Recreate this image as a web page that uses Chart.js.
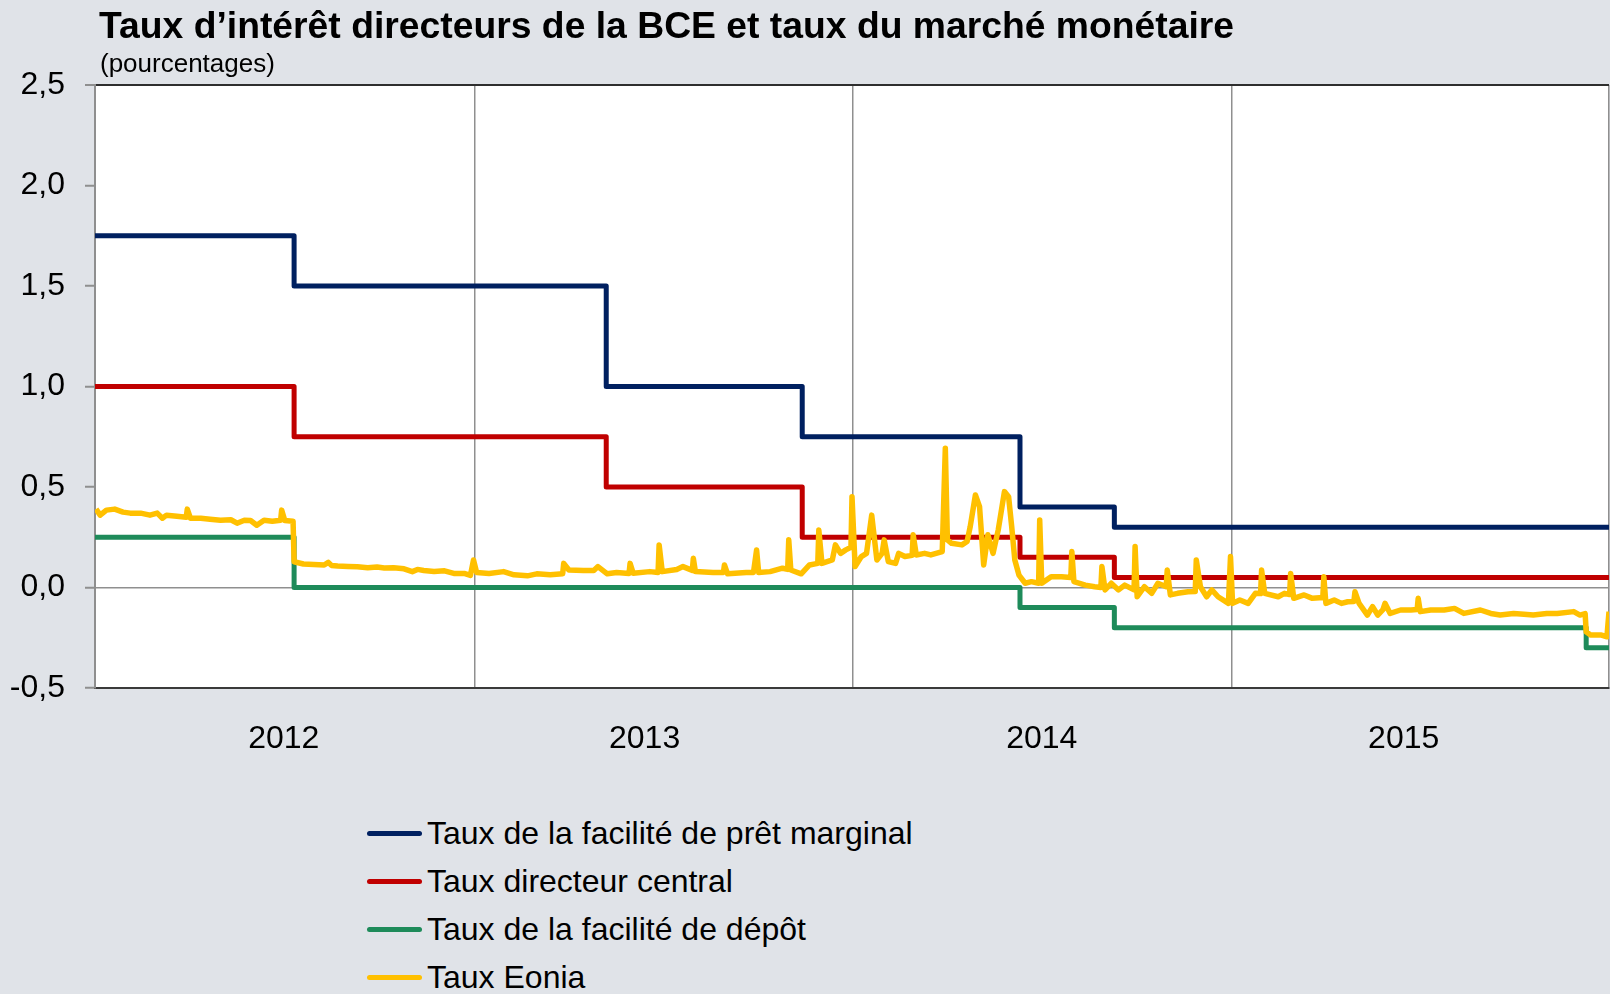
<!DOCTYPE html>
<html lang="fr">
<head>
<meta charset="utf-8">
<title>Taux d’intérêt directeurs de la BCE et taux du marché monétaire</title>
<script src="https://cdn.jsdelivr.net/npm/chart.js@4.4.1/dist/chart.umd.min.js"></script>
<style>
  body { margin: 0; background: #E0E3E8; font-family: "Liberation Sans", Arial, sans-serif; color: #000; }
  #page { position: relative; width: 1610px; height: 994px; overflow: hidden; }
  #chart { position: absolute; left: 0; top: 0; }
  h1 { position: absolute; left: 99px; top: 7px; margin: 0; font-size: 37.3px; line-height: 37px; font-weight: bold; white-space: nowrap; }
  .sub { position: absolute; left: 100px; top: 50px; font-size: 26px; line-height: 26px; }
  #legend { position: absolute; left: 367px; top: 809px; }
  .item { display: flex; align-items: center; height: 48px; font-size: 32px; line-height: 32px; white-space: nowrap; }
  .swatch { width: 55px; height: 5px; border-radius: 3px; margin-right: 5px; }
</style>
</head>
<body>
<div id="page">
  <canvas id="chart" width="1610" height="780"></canvas>
  <h1>Taux d’intérêt directeurs de la BCE et taux du marché monétaire</h1>
  <div class="sub">(pourcentages)</div>
  <div id="legend"></div>
</div>
<script>
// axis
const yearLabels = ['2012', '2013', '2014', '2015'];
const yearLabelDates = ['2012-07-01', '2013-06-14', '2014-07-02', '2015-06-16'];
const yearBounds = ['2012-01-01', '2013-01-01', '2014-01-01', '2015-01-01', '2015-12-31'];
const yMin = -0.5, yMax = 2.5, yStep = 0.5;

const seriesNames = [
  'Taux de la facilité de prêt marginal',
  'Taux directeur central',
  'Taux de la facilité de dépôt',
  'Taux Eonia'
];

// taux directeurs (dates de changement)
const policyDates = ['2012-01-01', '2012-07-11', '2013-05-08', '2013-11-13', '2014-06-11', '2014-09-10', '2015-12-09', '2015-12-31'];
const mlfRates = [1.75, 1.50, 1.00, 0.75, 0.40, 0.30, 0.30, 0.30];
const mroRates = [1.00, 0.75, 0.50, 0.25, 0.15, 0.05, 0.05, 0.05];
const dfRates  = [0.25, 0.00, 0.00, 0.00, -0.10, -0.20, -0.30, -0.30];

// Eonia
const eoniaDates = [
  '2012-01-02','2012-01-06','2012-01-12','2012-01-20','2012-01-28','2012-02-04','2012-02-14','2012-02-23','2012-03-01','2012-03-06',
  '2012-03-10','2012-03-20','2012-03-29','2012-03-30','2012-04-02','2012-04-12','2012-04-21','2012-05-01','2012-05-11','2012-05-17',
  '2012-05-24','2012-05-30','2012-06-05','2012-06-12','2012-06-20','2012-06-28','2012-06-29','2012-07-02','2012-07-10','2012-07-11',
  '2012-07-20','2012-08-09','2012-08-13','2012-08-16','2012-08-22','2012-09-01','2012-09-10','2012-09-20','2012-09-29','2012-10-06',
  '2012-10-15','2012-10-25','2012-11-02','2012-11-07','2012-11-13','2012-11-23','2012-12-03','2012-12-12','2012-12-22','2012-12-28',
  '2012-12-31',
  '2013-01-03','2013-01-15','2013-01-29','2013-02-08','2013-02-21','2013-03-02','2013-03-15','2013-03-27','2013-03-28','2013-04-02',
  '2013-04-16','2013-04-26','2013-04-30','2013-05-09','2013-05-18','2013-05-30','2013-05-31','2013-06-03','2013-06-19','2013-06-27',
  '2013-06-28','2013-07-01','2013-07-15','2013-07-21','2013-07-30','2013-07-31','2013-08-02','2013-08-19','2013-08-29','2013-08-30',
  '2013-09-02','2013-09-20','2013-09-27','2013-09-30','2013-10-02','2013-10-13','2013-10-25','2013-10-30','2013-10-31','2013-11-02',
  '2013-11-12','2013-11-20','2013-11-28','2013-11-29','2013-12-02','2013-12-12','2013-12-15','2013-12-20','2013-12-25','2013-12-30',
  '2013-12-31',
  '2014-01-03','2014-01-09','2014-01-14','2014-01-19','2014-01-24','2014-01-29','2014-01-31','2014-02-04','2014-02-11','2014-02-14',
  '2014-02-20','2014-02-27','2014-02-28','2014-03-03','2014-03-11','2014-03-17','2014-03-28','2014-03-31','2014-04-02','2014-04-06',
  '2014-04-16','2014-04-21','2014-04-24','2014-04-29','2014-05-03','2014-05-07','2014-05-11','2014-05-16','2014-05-21','2014-05-27',
  '2014-05-31','2014-06-03','2014-06-06','2014-06-10','2014-06-16','2014-06-22','2014-06-29','2014-06-30','2014-07-02','2014-07-11',
  '2014-07-21','2014-07-30','2014-07-31','2014-08-02','2014-08-13','2014-08-22','2014-08-28','2014-08-29','2014-09-01','2014-09-07',
  '2014-09-14','2014-09-20','2014-09-29','2014-09-30','2014-10-02','2014-10-09','2014-10-16','2014-10-22','2014-10-30','2014-10-31',
  '2014-11-03','2014-11-10','2014-11-20','2014-11-27','2014-11-28','2014-12-02','2014-12-08','2014-12-13','2014-12-19','2014-12-29',
  '2014-12-31',
  '2015-01-02','2015-01-09','2015-01-17','2015-01-24','2015-01-29','2015-01-30','2015-02-02','2015-02-15','2015-02-21','2015-02-26',
  '2015-02-27','2015-03-02','2015-03-12','2015-03-20','2015-03-30','2015-03-31','2015-04-02','2015-04-10','2015-04-17','2015-04-23',
  '2015-04-29','2015-04-30','2015-05-04','2015-05-12','2015-05-17','2015-05-22','2015-05-27','2015-05-29','2015-06-03','2015-06-13',
  '2015-06-23','2015-06-29','2015-06-30','2015-07-02','2015-07-12','2015-07-25','2015-08-04','2015-08-13','2015-08-29','2015-09-08',
  '2015-09-17','2015-09-30','2015-10-10','2015-10-19','2015-11-01','2015-11-11','2015-11-27','2015-12-03','2015-12-08','2015-12-09',
  '2015-12-13','2015-12-23','2015-12-29','2015-12-31'
];
const eoniaRates = [
  0.39, 0.36, 0.385, 0.39, 0.375, 0.37, 0.37, 0.36, 0.37, 0.345,
  0.36, 0.355, 0.35, 0.39, 0.345, 0.345, 0.34, 0.335, 0.337, 0.32,
  0.335, 0.333, 0.31, 0.335, 0.33, 0.335, 0.385, 0.333, 0.33, 0.128,
  0.117, 0.112, 0.125, 0.11, 0.107, 0.105, 0.103, 0.098, 0.102, 0.097,
  0.098, 0.093, 0.079, 0.09, 0.085, 0.08, 0.083, 0.07, 0.07, 0.06,
  0.137,
  0.075, 0.07, 0.079, 0.063, 0.058, 0.068, 0.063, 0.068, 0.12, 0.087,
  0.085, 0.085, 0.104, 0.068, 0.075, 0.07, 0.12, 0.071, 0.079, 0.075,
  0.212, 0.079, 0.09, 0.104, 0.085, 0.145, 0.079, 0.075, 0.075, 0.112,
  0.068, 0.075, 0.075, 0.187, 0.075, 0.079, 0.096, 0.09, 0.237, 0.087,
  0.068, 0.112, 0.12, 0.286, 0.12, 0.137, 0.212, 0.17, 0.187, 0.2,
  0.452,
  0.104, 0.154, 0.17, 0.36, 0.137, 0.17, 0.237, 0.129, 0.12, 0.17,
  0.154, 0.16, 0.262, 0.162, 0.17, 0.162, 0.179, 0.693, 0.237, 0.22,
  0.212, 0.229, 0.303, 0.46, 0.402, 0.112, 0.262, 0.17, 0.286, 0.477,
  0.452, 0.303, 0.137, 0.062, 0.021, 0.029, 0.021, 0.336, 0.021, 0.054,
  0.054, 0.05, 0.179, 0.029, 0.012, 0.004, 0.0, 0.104, -0.012, 0.021,
  -0.012, 0.012, -0.012, 0.204, -0.046, 0.004, -0.029, 0.021, 0.004, 0.087,
  -0.037, -0.029, -0.021, -0.02, 0.137, 0.004, -0.046, -0.012, -0.046, -0.079,
  0.154,
  -0.079, -0.062, -0.079, -0.029, -0.03, 0.087, -0.029, -0.046, -0.029, -0.035,
  0.07, -0.054, -0.037, -0.054, -0.05, 0.054, -0.079, -0.062, -0.079, -0.071,
  -0.07, -0.021, -0.079, -0.137, -0.095, -0.137, -0.11, -0.079, -0.129, -0.112,
  -0.112, -0.11, -0.054, -0.12, -0.112, -0.112, -0.104, -0.129, -0.112, -0.129,
  -0.137, -0.129, -0.133, -0.137, -0.129, -0.129, -0.12, -0.137, -0.13, -0.22,
  -0.236, -0.236, -0.245, -0.12
];

const colors = ['#002060', '#C00000', '#1E8B5A', '#FFC000'];
const lineWidths = [5, 5, 5, 5.5];
const fontFamily = '"Liberation Sans", Arial, sans-serif';

const day = s => (Date.parse(s) - Date.parse(yearBounds[0])) / 86400000;
const points = (dates, values) => dates.map((d, i) => ({ x: day(d), y: values[i] }));

const boundDays = yearBounds.map(day);
const labelDays = yearLabelDates.map(day);
const xTicks = boundDays.concat(labelDays).sort((a, b) => a - b);

const plotBackground = {
  id: 'plotBackground',
  beforeDraw(chart) {
    const { ctx, chartArea: a } = chart;
    ctx.save();
    ctx.fillStyle = '#FFFFFF';
    ctx.fillRect(a.left, a.top, a.right - a.left, a.bottom - a.top);
    ctx.restore();
  }
};

const seriesData = [
  points(policyDates, mlfRates),
  points(policyDates, mroRates),
  points(policyDates, dfRates),
  points(eoniaDates, eoniaRates)
];

new Chart(document.getElementById('chart'), {
  type: 'line',
  data: {
    datasets: seriesData.map((data, i) => ({
      label: seriesNames[i],
      data: data,
      borderColor: colors[i],
      borderWidth: lineWidths[i],
      stepped: i < 3 ? 'before' : false,
      borderJoinStyle: 'round',
      order: i < 3 ? 1 : 0
    }))
  },
  options: {
    responsive: false,
    animation: false,
    devicePixelRatio: 1,
    layout: { padding: { top: 85, right: 1, left: 0, bottom: 0 } },
    elements: { point: { radius: 0 }, line: { tension: 0 } },
    plugins: { legend: { display: false }, tooltip: { enabled: false } },
    scales: {
      x: {
        type: 'linear',
        min: boundDays[0],
        max: boundDays[boundDays.length - 1],
        afterBuildTicks: s => { s.ticks = xTicks.map(v => ({ value: v })); },
        afterFit: s => { s.height = 92; s.paddingLeft = 0; s.paddingRight = 0; },
        grid: {
          color: c => (c.tick && boundDays.includes(c.tick.value)) ? '#8F8F8F' : 'rgba(0,0,0,0)',
          lineWidth: 1.5,
          drawTicks: false
        },
        border: { color: '#3A3A3A', width: 2 },
        ticks: {
          autoSkip: false,
          maxRotation: 0,
          padding: 32,
          color: '#000',
          font: { size: 32, family: fontFamily },
          callback: v => {
            const i = labelDays.indexOf(v);
            return i >= 0 ? yearLabels[i] : '';
          }
        }
      },
      y: {
        min: yMin,
        max: yMax,
        afterFit: s => { s.width = 95; },
        ticks: {
          stepSize: yStep,
          padding: 20,
          color: '#000',
          font: { size: 32, family: fontFamily },
          callback: v => v.toFixed(1).replace('.', ',')
        },
        grid: {
          color: c => !c.tick ? 'rgba(0,0,0,0)' : c.tick.value === 0 ? '#8F8F8F' : c.tick.value === yMax ? '#2E2E2E' : 'rgba(0,0,0,0)',
          lineWidth: c => (c.tick && c.tick.value === yMax) ? 2 : 1.5,
          tickColor: '#8F8F8F',
          tickLength: 10,
          tickWidth: 2
        },
        border: { color: '#8F8F8F', width: 2 }
      }
    }
  },
  plugins: [plotBackground]
});

document.getElementById('legend').innerHTML = seriesNames.map((name, i) => `
  <div class="item"><span class="swatch" style="background:${colors[i]}"></span>${name}</div>
`).join('');
</script>
</body>
</html>
